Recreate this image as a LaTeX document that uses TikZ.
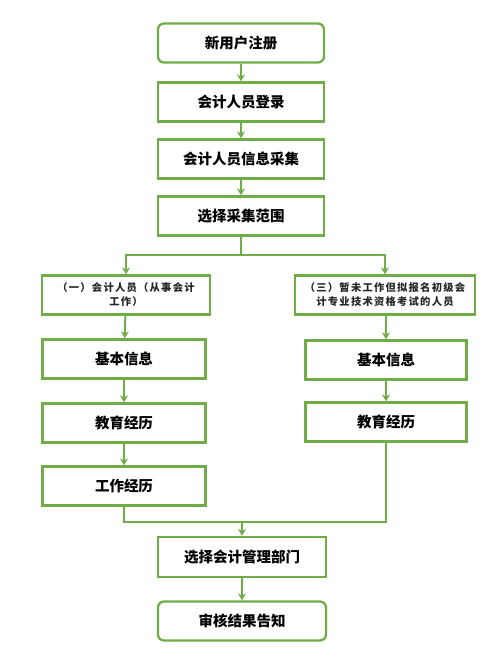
\documentclass[tikz,border=0pt]{standalone}
\usepackage{fontspec}
\newfontfamily\cjk{Noto Sans CJK SC}
\newfontfamily\cjks[LetterSpace=12]{Noto Sans CJK SC}
\usetikzlibrary{arrows.meta}
\definecolor{grn}{RGB}{112,173,71}
\begin{document}
\begin{tikzpicture}[x=1pt,y=-1pt,
  box/.style={draw=grn,line width=2.3pt,fill=white,minimum width=166pt,minimum height=39pt,inner sep=2pt,font=\cjk\bfseries\fontsize{14.5}{16}\selectfont},
  rbox/.style={box,rounded corners=6pt},
  sbox/.style={draw=grn,line width=2.3pt,fill=white,minimum height=39pt,inner sep=2pt,align=center,text=black!85,font=\cjks\bfseries\fontsize{10.3}{14}\selectfont},
  ln/.style={draw=grn,line width=2pt},
  arr/.style={ln,-{Stealth[length=7pt,width=8pt]}}]
\useasboundingbox (0,0) rectangle (504,657);
\node[rbox] (n1) at (241,43) {新用户注册};
\node[box] (n2) at (241,102) {会计人员登录};
\node[box] (n3) at (241,159) {会计人员信息采集};
\node[box] (n4) at (241,216) {选择采集范围};
\node[sbox,minimum width=168pt] (L0) at (126,295) {（一）会计人员（从事会计\\工作）};
\node[sbox,minimum width=180pt] (R0) at (385,295) {（三）暂未工作但拟报名初级会\\计专业技术资格考试的人员};
\node[box,minimum width=163pt] (L1) at (124,359) {基本信息};
\node[box,minimum width=163pt] (L2) at (124,423) {教育经历};
\node[box,minimum width=163pt] (L3) at (124,486) {工作经历};
\node[box,minimum width=161pt] (R1) at (386,360) {基本信息};
\node[box,minimum width=161pt] (R2) at (386,422) {教育经历};
\node[box,minimum width=168pt,minimum height=40pt] (n5) at (242,557) {选择会计管理部门};
\node[rbox,minimum width=168pt] (n6) at (242,621) {审核结果告知};
\coordinate (b) at (241,255);
\coordinate (m) at (242,522);
\draw[arr] (n1) -- (n2);
\draw[arr] (n2) -- (n3);
\draw[arr] (n3) -- (n4);
\draw[ln] (n4.south) -- (b);
\draw[arr] (b) -| (L0.north);
\draw[arr] (b) -| (R0.north);
\draw[arr] (L0) -- (L1);
\draw[arr] (L1) -- (L2);
\draw[arr] (L2) -- (L3);
\draw[arr] (R0.south -| R1.north) -- (R1.north);
\draw[arr] (R1) -- (R2);
\draw[ln] (L3.south) |- (m);
\draw[ln] (R2.south) |- (m);
\draw[arr] (m) -- (n5.north);
\draw[arr] (n5) -- (n6);
\end{tikzpicture}
\end{document}
